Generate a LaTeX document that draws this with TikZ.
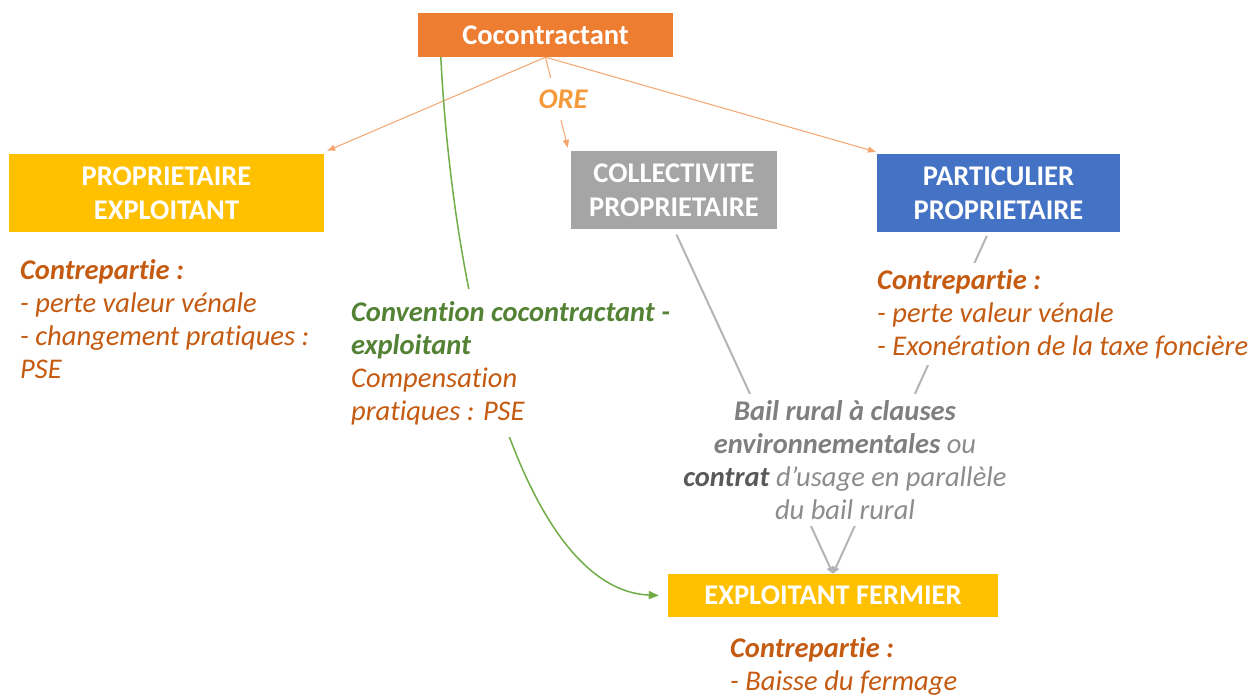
\documentclass[tikz,border=0pt]{standalone}
\usepackage{fontspec}
\setmainfont[Ligatures=NoCommon]{Carlito}
\usetikzlibrary{arrows.meta,backgrounds}
\definecolor{cOrange}{HTML}{ED7D31}
\definecolor{cYellow}{HTML}{FFC000}
\definecolor{cGray}{HTML}{A5A5A5}
\definecolor{cBlue}{HTML}{4472C4}
\definecolor{cText}{HTML}{C55A11}
\definecolor{cGreen}{HTML}{548235}
\definecolor{cGline}{HTML}{70AD47}
\definecolor{cORE}{HTML}{F59A3A}
\definecolor{cOline}{HTML}{F4A46E}
\definecolor{cBail}{HTML}{7F7F7F}
\definecolor{cDark}{HTML}{595959}
\definecolor{cLight}{HTML}{8C8C8C}
\definecolor{cGrayLine}{HTML}{B4B4B4}
\begin{document}
\begin{tikzpicture}[x=1pt,y=-1pt,
  box/.style={rectangle, inner sep=0pt, text=white, font=\fontsize{28.5}{34}\selectfont\bfseries, align=center},
  txt/.style={inner sep=6pt, fill=white, align=left, font=\fontsize{28.5}{33}\selectfont\itshape, text=cText},
  oarrow/.style={draw=cOline, line width=1pt, -{Triangle[length=8pt,width=6pt]}},
  garrow/.style={draw=cGline, line width=1.5pt, -{Triangle[length=10pt,width=8pt]}},
  grarrow/.style={draw=cGrayLine, line width=2pt, -{Triangle[length=7pt,width=7pt]}}]
\useasboundingbox (0,0) rectangle (1251,697);
\node[box, fill=cOrange, minimum width=255pt, minimum height=44pt] (coco) at (545.5,35) {Cocontractant};
\node[box, fill=cYellow, minimum width=315pt, minimum height=78pt] (propex) at (166.5,193) {PROPRIETAIRE\\EXPLOITANT};
\node[box, fill=cGray, minimum width=206pt, minimum height=78pt] (coll) at (674,190) {COLLECTIVITE\\PROPRIETAIRE};
\node[box, fill=cBlue, minimum width=243pt, minimum height=78pt] (part) at (998.5,193) {PARTICULIER\\PROPRIETAIRE};
\node[box, fill=cYellow, minimum width=330pt, minimum height=43pt] (ferm) at (833,595.5) {EXPLOITANT FERMIER};

\node[txt, anchor=west] (ltxt) at (14,319.5) {\textbf{Contrepartie :}\\- perte valeur vénale\\- changement pratiques :\\PSE};
\node[txt, anchor=west, inner ysep=12pt] (conv) at (345,363) {\textcolor{cGreen}{\textbf{Convention cocontractant -}}\\\textcolor{cGreen}{\textbf{exploitant}}\\Compensation\\pratiques : PSE};
\node[txt, anchor=west] (rtxt) at (871,314) {\textbf{Contrepartie :}\\- perte valeur vénale\\- Exonération de la taxe foncière};
\node[txt, align=center, text=cBail] (bail) at (845,460) {\textbf{Bail rural à clauses}\\\textbf{environnementales} \textcolor{cLight}{ou}\\\textcolor{cDark}{\textbf{contrat}} \textcolor{cLight}{d’usage en parallèle}\\\textcolor{cLight}{du bail rural}};
\node[txt, anchor=west] (btxt) at (724,666.5) {\textbf{Contrepartie :}\\- Baisse du fermage};
\node[fill=white, text=cORE, font=\fontsize{28.5}{33}\selectfont\bfseries\itshape, minimum height=42pt, inner xsep=4pt] (ore) at (563,99) {ORE};

\begin{scope}[on background layer]
\draw[oarrow] (coco.south) -- ([shift={(3,-3)}]propex.north east);
\draw[oarrow] (coco.south) -- ([shift={(-3,-3)}]coll.north west);
\draw[oarrow] (coco.south) -- ([shift={(-1,-2)}]part.north west);
\draw[garrow] ([xshift=23pt]coco.south west) .. controls (455,330) and (530,590) .. ([xshift=-9pt]ferm.west);
\draw[grarrow, shorten <=6pt] (coll.south) -- (ferm.north);
\draw[grarrow, shorten <=4pt] ([xshift=-10pt]part.south) -- (ferm.north);
\end{scope}
\end{tikzpicture}
\end{document}
